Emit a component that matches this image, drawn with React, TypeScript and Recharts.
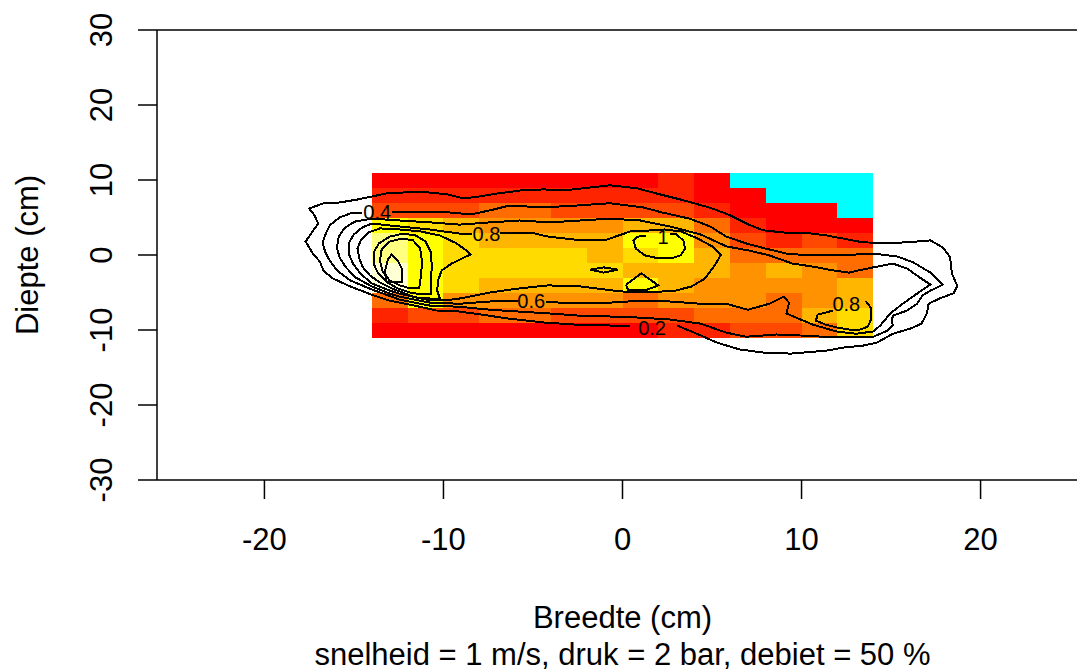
import React from 'react';
import { ScatterChart, Scatter, XAxis, YAxis, ReferenceArea, ReferenceLine, Label } from 'recharts';

type Pt = [number, number];

// heatmap grid (cell centres, cm)
const xCenters = [-13, -11, -9, -7, -5, -3, -1, 1, 3, 5, 7, 9, 11, 13];
const yCenters = [10, 8, 6, 4, 2, 0, -2, -4, -6, -8, -10];

// colour level per cell, one row per depth (10 = no data / cyan)
const cellLevels: number[][] = [
  [0, 0, 0, 0, 0, 0, 0, 0, 1, 0, 10, 10, 10, 10],
  [1, 1, 1, 1, 1, 1, 1, 1, 1, 0, 0, 10, 10, 10],
  [2, 2, 2, 3, 3, 2, 2, 2, 2, 1, 0, 0, 0, 10],
  [7, 6, 5, 4, 4, 4, 4, 5, 5, 3, 1, 0, 0, 0],
  [8, 7, 6, 5, 5, 5, 5, 7, 7, 4, 2, 1, 2, 1],
  [8, 7, 6, 6, 6, 6, 5, 6, 7, 5, 3, 3, 3, 3],
  [9, 7, 6, 6, 6, 6, 6, 5, 5, 5, 4, 5, 4, 3],
  [9, 7, 6, 5, 5, 5, 5, 7, 5, 4, 4, 4, 4, 5],
  [3, 7, 4, 4, 4, 4, 4, 3, 4, 4, 4, 3, 4, 5],
  [1, 2, 2, 3, 3, 2, 2, 2, 2, 3, 3, 3, 5, 6],
  [0, 0, 0, 0, 0, 0, 0, 0, 1, 1, 2, 2, 3, 6],
];

const heatColors = [
  '#FF0000', '#FF2400', '#FF4900', '#FF6D00', '#FF9200',
  '#FFB600', '#FFDB00', '#FFFF00', '#FFFF80', '#FFFFD5', '#00FFFF',
];

const xTicks = [-20, -10, 0, 10, 20];
const yTicks = [-30, -20, -10, 0, 10, 20, 30];

// contour lines (cm)
const contour02: Pt[] = [
  [0.4, -9.4], [-0.7, -9.4], [-2.5, -9.3], [-4.4, -9.0], [-6.3, -8.5], [-8.0, -7.9], [-9.25, -7.5],
  [-10.4, -7.4], [-11.7, -6.7], [-13.0, -6.1], [-14.0, -5.3], [-15.2, -4.2], [-16.2, -3.1], [-16.7, -2.1],
  [-16.9, -0.9], [-17.3, 0.2], [-17.7, 1.8], [-17.35, 3.0], [-17.0, 4.2], [-17.2, 5.3], [-17.5, 6.2],
  [-16.7, 6.9], [-15.8, 7.0], [-14.8, 7.4], [-14.0, 7.8], [-13.2, 8.2], [-12.15, 8.35], [-10.9, 8.35],
  [-9.8, 8.1], [-8.9, 7.55], [-8.0, 7.8], [-7.0, 8.2], [-5.7, 8.6], [-4.4, 8.75], [-3.3, 8.6],
  [-1.8, 9.0], [-0.7, 9.3], [0.8, 8.9], [1.9, 8.2], [3.4, 7.3], [4.9, 6.3], [6.0, 5.3], [7.0, 4.1],
  [7.85, 3.3], [9.0, 3.0], [10.1, 3.0], [11.4, 2.6], [12.3, 2.2], [13.4, 1.7], [14.9, 1.55],
  [16.45, 1.8], [17.2, 1.95], [17.9, 1.0], [18.3, -0.3], [18.4, -2.5], [18.7, -4.1], [18.5, -5.1],
  [17.7, -5.8], [17.1, -6.5], [17.0, -7.8], [16.7, -9.15], [16.1, -9.8], [15.1, -10.5], [14.2, -11.7],
  [13.4, -12.1], [12.3, -12.35], [11.4, -12.75], [9.4, -13.15], [7.85, -13.0], [6.55, -12.6],
  [5.3, -11.7], [4.15, -10.5], [3.05, -9.4],
];

const contour04: Pt[] = [
  [-12.9, 5.8], [-12.25, 5.8], [-10.75, 5.8], [-9.5, 5.65], [-8.5, 5.4], [-7.4, 5.95], [-6.3, 6.6],
  [-4.45, 6.35], [-2.55, 6.6], [-0.7, 6.9], [1.15, 6.35], [2.25, 5.65], [3.75, 4.85], [4.9, 3.8],
  [5.8, 2.45], [6.9, 1.55], [8.0, 0.85], [9.15, 0.2], [10.4, -0.05], [11.95, 0.05], [12.9, 0.05],
  [14.0, 0.2], [15.35, -0.2], [16.25, -1.0], [17.2, -2.35], [17.9, -3.95], [17.2, -4.75], [16.75, -5.4],
  [16.45, -6.5], [15.9, -7.4], [15.1, -8.1], [15.05, -8.75], [15.1, -9.4], [14.8, -10.1], [14.0, -10.9],
  [11.95, -11.0], [10.1, -10.75], [8.6, -10.6], [6.9, -10.9], [5.8, -10.35], [4.35, -9.15], [2.65, -8.6],
  [1.0, -8.35], [-0.7, -8.2], [-2.35, -8.1], [-4.05, -7.8], [-5.75, -7.55], [-7.4, -7.3], [-9.1, -6.9],
  [-10.75, -6.75], [-12.45, -5.95], [-14.0, -4.6], [-15.2, -3.4], [-15.95, -2.05], [-16.35, -0.75],
  [-16.6, 0.35], [-16.75, 1.65], [-16.55, 3.0], [-16.35, 3.95], [-15.8, 5.0], [-15.2, 5.55], [-14.55, 5.65],
];

const contour06: Pt[] = [
  [-4.25, -6.2], [-3.5, -6.35], [-2.35, -6.35], [-0.7, -6.35], [1.0, -6.1], [2.65, -6.2], [4.35, -6.5],
  [5.8, -6.5], [7.0, -7.3], [8.2, -6.5], [9.0, -5.55], [9.3, -6.35], [9.15, -7.8], [9.85, -8.5],
  [10.65, -9.3], [11.95, -10.2], [13.05, -10.5], [14.0, -10.2], [14.4, -9.4], [14.95, -7.8], [15.65, -6.5],
  [16.45, -5.15], [17.2, -3.95], [16.45, -2.75], [15.9, -1.8], [15.1, -1.15], [14.0, -1.65], [13.2, -2.05],
  [12.65, -2.35], [11.75, -2.05], [10.65, -1.55], [9.5, -1.15], [8.2, -0.05], [7.05, 0.6], [5.8, 1.15],
  [4.35, 2.75], [2.65, 3.8], [1.0, 4.6], [-0.7, 4.85], [-2.35, 4.6], [-4.05, 4.35], [-5.75, 4.6],
  [-7.4, 4.35], [-9.1, 4.05], [-10.75, 4.35], [-12.45, 4.6], [-14.0, 4.85], [-14.95, 4.45], [-15.5, 3.65],
  [-15.85, 2.45], [-15.95, 1.0], [-15.8, -0.35], [-15.45, -1.65], [-14.9, -3.0], [-14.0, -4.2],
  [-13.0, -5.15], [-12.45, -5.55], [-10.75, -6.35], [-9.1, -6.5], [-7.4, -6.2], [-5.85, -6.1],
];

const contour08: Pt[] = [
  [-6.85, 3.0], [-5.15, 3.0], [-4.15, 2.45], [-2.3, 1.95], [-1.0, 1.95], [-0.4, 2.45], [0.45, 3.15],
  [1.4, 3.25], [2.35, 3.4], [3.25, 3.15], [4.2, 2.2], [5.0, 1.15], [5.5, 0.05], [5.15, -1.4],
  [4.6, -3.15], [3.85, -4.2], [2.95, -4.75], [1.4, -5.0], [-0.15, -4.85], [-2.3, -4.2], [-4.15, -4.05],
  [-5.75, -4.45], [-7.4, -5.0], [-9.1, -5.8], [-9.9, -6.05], [-10.75, -6.05], [-12.45, -5.15],
  [-13.0, -4.75], [-14.0, -3.8], [-14.65, -2.45], [-15.05, -1.15], [-15.3, 0.2], [-15.3, 1.55],
  [-15.0, 2.75], [-14.55, 3.65], [-14.0, 4.2], [-12.45, 3.8], [-10.75, 3.4], [-9.1, 2.85], [-8.4, 2.75],
];

const contour08Right: Pt[] = [
  [13.6, -6.15], [13.9, -7.15], [13.9, -8.5], [13.7, -9.55], [13.25, -9.95], [12.7, -9.95],
  [12.05, -9.7], [11.35, -9.3], [10.8, -8.75], [10.9, -7.95], [11.55, -7.55], [11.75, -7.4],
];

const contour10Left: Pt[] = [
  [-13.55, 3.55], [-12.45, 3.4], [-11.3, 3.15], [-10.2, 2.6], [-9.35, 1.65], [-8.8, 0.75], [-8.5, 0.05],
  [-8.95, -0.45], [-9.55, -1.15], [-10.1, -2.05], [-10.3, -3.4], [-10.35, -4.75], [-10.2, -5.8],
  [-10.75, -5.8], [-11.6, -5.65], [-12.45, -4.85], [-12.9, -4.45], [-13.55, -3.65], [-14.1, -2.75],
  [-14.5, -1.65], [-14.7, -0.45], [-14.8, 0.85], [-14.6, 2.05], [-14.2, 3.0], [-13.55, 3.55],
];

const contour10Top: Pt[] = [
  [2.65, 2.85], [3.0, 2.75], [3.4, 1.95], [3.5, 0.85], [3.25, -0.05], [2.7, -0.45], [2.0, -0.45],
  [1.25, -0.05], [0.75, 0.85], [0.6, 1.95], [0.85, 2.45], [1.3, 2.6],
];

const contour10Low: Pt[] = [[0.2, -3.95], [1.05, -2.45], [2.0, -4.05], [1.4, -4.6], [0.3, -4.6], [0.2, -3.95]];

const contour10Mid: Pt[] = [[-1.8, -1.95], [-1.05, -1.65], [-0.25, -1.95], [-1.05, -2.35], [-1.8, -1.95]];

const contour12: Pt[] = [
  [-11.85, -5.0], [-12.55, -4.45], [-13.15, -3.65], [-13.65, -2.45], [-13.9, -1.15], [-13.9, 0.35],
  [-13.6, 1.55], [-13.0, 2.45], [-12.25, 2.85], [-11.55, 2.6], [-11.0, 1.8], [-10.7, 0.35],
  [-10.65, -1.55], [-10.7, -3.4], [-10.7, -5.15], [-11.3, -5.25], [-11.85, -5.0],
];

const contour14: Pt[] = [
  [-12.45, -4.05], [-13.0, -3.4], [-13.4, -2.2], [-13.55, -0.75], [-13.45, 0.75], [-13.0, 1.8],
  [-12.3, 2.2], [-11.7, 1.95], [-11.3, 0.85], [-11.2, -0.85], [-11.25, -2.75], [-11.35, -4.35],
  [-11.85, -4.45], [-12.45, -4.05],
];

const contour16: Pt[] = [
  [-13.2, -3.65], [-13.25, -2.05], [-13.1, -0.6], [-12.9, 0.05], [-12.55, -0.75], [-12.3, -1.95],
  [-12.3, -3.55], [-12.75, -3.65], [-13.2, -3.65],
];

const contourLines: Pt[][] = [
  contour02, contour04, contour06, contour08, contour08Right, contour10Left,
  contour10Top, contour10Low, contour10Mid, contour12, contour14, contour16,
];

const labelText = ['0.4', '0.8', '0.6', '0.2', '0.8', '1'];
const labelX = [-13.7, -7.6, -5.1, 1.65, 12.5, 2.26];
const labelY = [5.75, 2.8, -6.1, -9.7, -6.55, 2.35];

const FONT = '"Liberation Sans", Arial, sans-serif';

const toPoints = (line: Pt[]) => line.map(([x, y]) => ({ x, y }));
const labelPoints = labelText.map((text, i) => ({ x: labelX[i], y: labelY[i], text }));

const NoDot = () => <g />;

const ContourLabel = (props: any) => (
  <text x={props.cx} y={props.cy} dy="0.35em" textAnchor="middle" fontSize={20} fontFamily={FONT} fill="#000">
    {props.payload.text}
  </text>
);

const XTick = ({ x, y, payload }: any) => (
  <text x={x} y={y + 51} textAnchor="middle" fontSize={31} fontFamily={FONT} fill="#000">
    {payload.value}
  </text>
);

const YTick = ({ x, y, payload }: any) => (
  <text transform={`translate(${x - 26},${y}) rotate(-90)`} textAnchor="middle" fontSize={31} fontFamily={FONT} fill="#000">
    {payload.value}
  </text>
);

const App: React.FC = () => {
  const halfW = (xCenters[1] - xCenters[0]) / 2;
  const halfH = (yCenters[0] - yCenters[1]) / 2;

  return (
    <div style={{ position: 'fixed', left: 0, top: 0, width: 1077, height: 672, overflow: 'hidden', background: '#fff' }}>
      <ScatterChart width={1100} height={672} margin={{ top: 30, right: 12, bottom: 0, left: 0 }}>
        <XAxis
          type="number"
          dataKey="x"
          domain={[-26, 26]}
          ticks={xTicks}
          interval={0}
          allowDataOverflow
          height={192}
          tickSize={19}
          tickMargin={0}
          tick={XTick}
          axisLine={{ stroke: '#000', strokeWidth: 1.5 }}
          tickLine={{ stroke: '#000', strokeWidth: 1.5 }}
        >
          <Label
            content={({ viewBox }: any) => (
              <g fontFamily={FONT} fontSize={31} fill="#000" textAnchor="middle">
                <text x={viewBox.x + viewBox.width / 2} y={viewBox.y + 148}>Breedte (cm)</text>
                <text x={viewBox.x + viewBox.width / 2} y={viewBox.y + 185}>snelheid = 1 m/s, druk = 2 bar, debiet = 50 %</text>
              </g>
            )}
          />
        </XAxis>
        <YAxis
          type="number"
          dataKey="y"
          domain={[-30, 30]}
          ticks={yTicks}
          interval={0}
          allowDataOverflow
          width={157}
          tickSize={19}
          tickMargin={0}
          tick={YTick}
          axisLine={{ stroke: '#000', strokeWidth: 1.5 }}
          tickLine={{ stroke: '#000', strokeWidth: 1.5 }}
        >
          <Label
            content={({ viewBox }: any) => (
              <text
                transform={`translate(38,${viewBox.y + viewBox.height / 2}) rotate(-90)`}
                textAnchor="middle"
                fontSize={31}
                fontFamily={FONT}
                fill="#000"
              >
                Diepte (cm)
              </text>
            )}
          />
        </YAxis>
        <ReferenceLine y={30} stroke="#000" strokeWidth={1.5} />
        {yCenters.map((yc, r) =>
          xCenters.map((xc, c) => (
            <ReferenceArea
              key={`cell-${r}-${c}`}
              x1={xc - halfW}
              x2={xc + halfW}
              y1={yc - halfH}
              y2={yc + halfH}
              fill={heatColors[cellLevels[r][c]]}
              fillOpacity={1}
              stroke="none"
              shapeRendering="crispEdges"
              ifOverflow="visible"
            />
          ))
        )}
        {contourLines.map((line, i) => (
          <Scatter
            key={`contour-${i}`}
            data={toPoints(line)}
            line={{ stroke: '#000', strokeWidth: 2, shapeRendering: 'crispEdges' }}
            lineJointType="linear"
            shape={NoDot}
            isAnimationActive={false}
          />
        ))}
        <Scatter data={labelPoints} shape={ContourLabel} isAnimationActive={false} />
      </ScatterChart>
    </div>
  );
};

export default App;
